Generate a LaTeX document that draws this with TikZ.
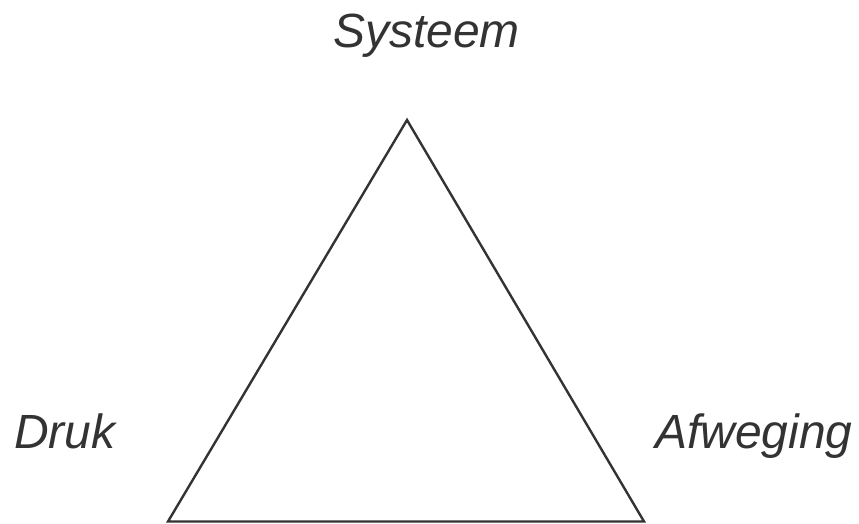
\documentclass[tikz,border=0pt]{standalone}
\usepackage{fontspec}
\setmainfont{Liberation Sans}
\definecolor{inkgray}{HTML}{333333}
\tikzset{
	hoek/.style={inner sep=0pt, anchor=base west, text=inkgray, font=\fontsize{48}{58}\selectfont\itshape},
	zijde/.style={draw=inkgray, line width=2.4pt, line join=miter}
}
\begin{document}
\begin{tikzpicture}[x=1pt, y=1pt]
		\useasboundingbox (0,0) rectangle (859,523);

		\coordinate (top) at (407, 403);
		\coordinate (links) at (168, 1.5);
		\coordinate (rechts) at (644, 1.5);

		\node[hoek] at (333, 475) (systeem) {Systeem};
		\node[hoek] at (14, 75) (druk) {Druk};
		\node[hoek] at (655, 75) (afweging) {Afweging};

		\draw[zijde] (top) -- (rechts) -- (links) -- cycle;
\end{tikzpicture}
\end{document}
